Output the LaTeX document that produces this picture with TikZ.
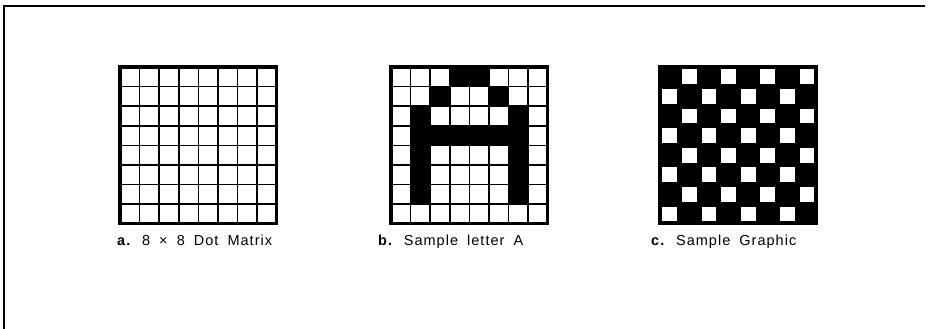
\documentclass[tikz,border=0pt]{standalone}
\usepackage{fontspec}
\setmainfont{Liberation Sans}
\newfontfamily\capfont[LetterSpace=7,WordSpace=1.8]{Liberation Sans}
\def\cs{19.6}
\tikzset{gridline/.style={line width=1.7pt},
         gridframe/.style={line width=3.2pt},
         caption/.style={anchor=base west,inner sep=0pt,font=\capfont\fontsize{14.5}{17}\selectfont}}

\begin{document}
\begin{tikzpicture}[x=1pt,y=-1pt,line join=miter]
  \useasboundingbox (0,0) rectangle (929,329);
  % outer frame, open on the right and at the bottom
  \draw[line width=2pt] (4,329) -- (4,6) -- (925,6);
  % a. empty dot matrix
  \begin{scope}[shift={(120,67)}]
    \foreach \i in {1,...,7}{
      \draw[gridline] (\i*\cs,0) -- (\i*\cs,8*\cs);
      \draw[gridline] (0,\i*\cs) -- (8*\cs,\i*\cs);
    }
    \draw[gridframe] (0,0) rectangle (8*\cs,8*\cs);
  \end{scope}
  \node[caption] (capA) at (117,245) {\textbf{a.} 8 × 8 Dot Matrix};
  % b. letter A
  \begin{scope}[shift={(391,67)}]
    \foreach \c/\r in {3/0,4/0,2/1,5/1,1/2,6/2,1/3,2/3,3/3,4/3,5/3,6/3,
                       1/4,6/4,1/5,6/5,1/6,6/6}
      \fill (\c*\cs,\r*\cs) rectangle ++(\cs,\cs);
    \foreach \i in {1,...,7}{
      \draw[gridline] (\i*\cs,0) -- (\i*\cs,8*\cs);
      \draw[gridline] (0,\i*\cs) -- (8*\cs,\i*\cs);
    }
    \draw[gridframe] (0,0) rectangle (8*\cs,8*\cs);
  \end{scope}
  \node[caption] (capB) at (378,245) {\textbf{b.} Sample letter A};
  % c. graphic, every second dot off
  \begin{scope}[shift={(660,67)}]
    \fill (0,0) rectangle (8*\cs,8*\cs);
    \foreach \r in {0,...,7}
      \foreach \c in {0,...,7}{
        \pgfmathparse{int(mod(\r+\c,2))}
        \ifnum\pgfmathresult=1
          \fill[white] (\c*\cs+2.4,\r*\cs+2.4) rectangle ++(\cs-4.8,\cs-4.8);
        \fi
      }
    \draw[gridframe] (0,0) rectangle (8*\cs,8*\cs);
  \end{scope}
  \node[caption] (capC) at (651,245) {\textbf{c.} Sample Graphic};
\end{tikzpicture}
\end{document}
